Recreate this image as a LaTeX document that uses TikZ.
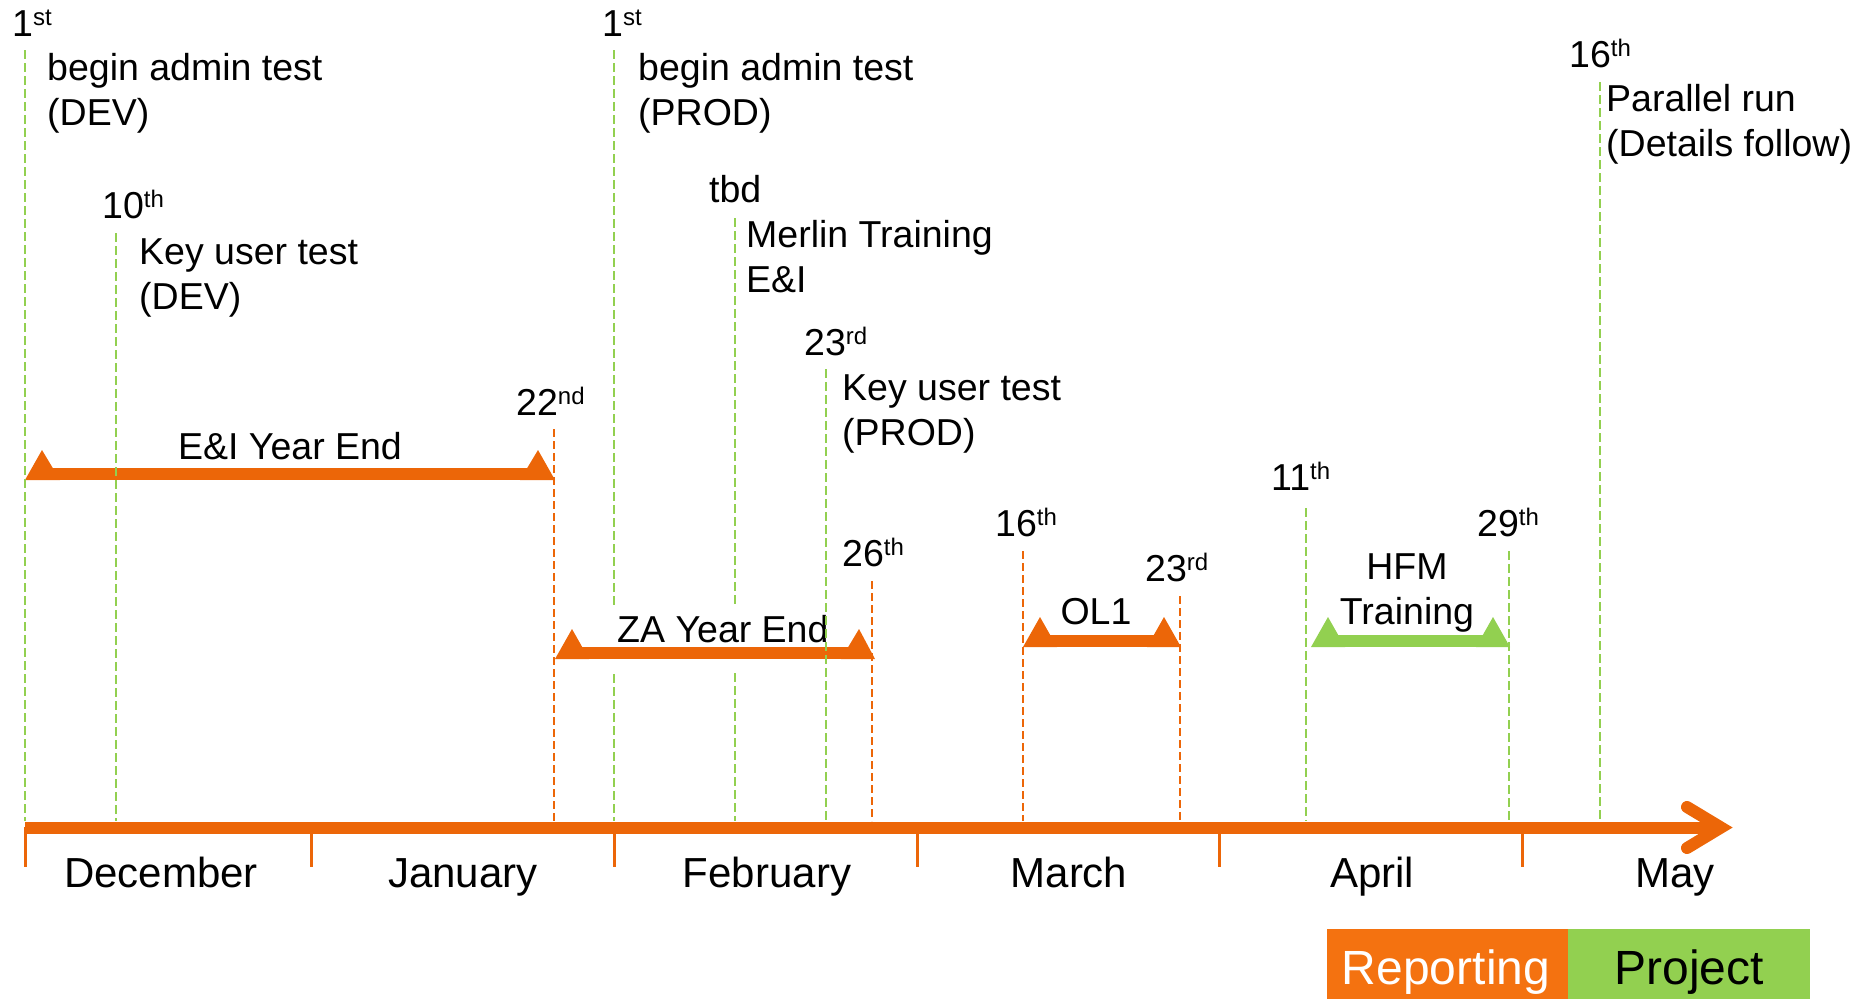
\documentclass[tikz,border=0pt]{standalone}
\usepackage{fontspec}
\setmainfont{Liberation Sans}
\definecolor{orangeC}{RGB}{236,102,8}
\definecolor{repC}{RGB}{244,114,16}
\definecolor{greenC}{RGB}{146,208,80}
\newcommand\tsup[1]{\raisebox{11pt}{\fontsize{24}{24}\selectfont #1}}
\begin{document}
\begin{tikzpicture}[x=1pt,y=-1pt,
  txt/.style={font=\fontsize{37.5}{45}\selectfont, inner sep=0pt, align=left, anchor=base west},
  ctxt/.style={font=\fontsize{37.5}{45}\selectfont, inner sep=0pt, align=center, anchor=base},
  month/.style={font=\fontsize{42}{45}\selectfont, inner sep=0pt, anchor=base},
  boxtxt/.style={font=\fontsize{48}{50}\selectfont, inner sep=0pt, anchor=base},
  gline/.style={draw=greenC, line width=2.2pt, dash pattern=on 9pt off 4pt},
  oline/.style={draw=orangeC, line width=2.7pt, dash pattern=on 8pt off 4pt},
  tick/.style={draw=orangeC, line width=3pt}
]
\useasboundingbox (0,0) rectangle (1857,999);
% E&I bar (under the marker lines)
\fill[orangeC] (42,468) rectangle (538,480);
\fill[orangeC] (25,480) -- (60,480) -- (42,450) -- cycle;
\fill[orangeC] (520,480) -- (555,480) -- (538,450) -- cycle;
% dashed marker lines
\foreach \x/\t in {25/50, 116/233, 614/50, 735/218, 1600/82, 1306/508, 1509/551}
  \draw[gline] (\x,\t) -- (\x,821);
\foreach \x/\t in {554/429, 872/581, 1023/551, 1180/596}
  \draw[oline] (\x,\t) -- (\x,821);
% main axis
\draw[orangeC, line width=12pt] (25,827.5) -- (1722,827.5);
\draw[orangeC, line width=12pt, line cap=round, line join=miter] (1687,807) -- (1721,827.5) -- (1687,848);
\foreach \x in {25, 311, 614, 917, 1219, 1522}
  \draw[tick] (\x,827) -- (\x,867);
% ZA label with white background
\node[font=\fontsize{37.5}{45}\selectfont, fill=white, inner xsep=5pt, inner ysep=0pt,
      text height=34pt, text depth=28pt, anchor=base west] (za) at (612,642) {ZA Year End};
% bars
\fill[orangeC] (572,647) rectangle (859,659);
\fill[orangeC] (555,659) -- (589,659) -- (572,629) -- cycle;
\fill[orangeC] (841,659) -- (875,659) -- (859,629) -- cycle;
\fill[orangeC] (1040,635) rectangle (1164,647);
\fill[orangeC] (1023,647) -- (1057,647) -- (1040,617) -- cycle;
\fill[orangeC] (1147,647) -- (1181,647) -- (1164,617) -- cycle;
\fill[greenC] (1328,635) rectangle (1493,647);
\fill[greenC] (1311,647) -- (1345,647) -- (1328,617) -- cycle;
\fill[greenC] (1476,647) -- (1510,647) -- (1493,617) -- cycle;
% line drawn over the ZA bar
\draw[gline] (826,369) -- (826,821);
% date labels
\node[txt] (d1) at (12,36) {1\tsup{st}};
\node[txt] (t1) at (47,125) {begin admin test\\(DEV)};
\node[txt] (d2) at (102,218) {10\tsup{th}};
\node[txt] (t2) at (139,309) {Key user test\\(DEV)};
\node[txt] (d3) at (602,36) {1\tsup{st}};
\node[txt] (t3) at (638,125) {begin admin test\\(PROD)};
\node[txt] (d4) at (709,202) {tbd};
\node[txt] (t4) at (746,292) {Merlin Training\\E\&I};
\node[txt] (d5) at (804,355) {23\tsup{rd}};
\node[txt] (t5) at (842,445) {Key user test\\(PROD)};
\node[txt] (d6) at (1569,67) {16\tsup{th}};
\node[txt] (t6) at (1606,156) {Parallel run\\(Details follow)};
\node[txt] (d7) at (516,415) {22\tsup{nd}};
\node[txt] (d8) at (842,566) {26\tsup{th}};
\node[txt] (d9) at (995,536) {16\tsup{th}};
\node[txt] (d10) at (1145,581) {23\tsup{rd}};
\node[txt] (d11) at (1271,490) {11\tsup{th}};
\node[txt] (d12) at (1477,536) {29\tsup{th}};
% bar labels
\node[ctxt] (ei) at (290,459) {E\&I Year End};
\node[ctxt] (ol) at (1096,624) {OL1};
\node[ctxt] (hfm) at (1407,624) {HFM\\Training};
% months
\node[month] (m1) at (161,887) {December};
\node[month] (m2) at (463,887) {January};
\node[month] (m3) at (767,887) {February};
\node[month] (m4) at (1069,887) {March};
\node[month] (m5) at (1372,887) {April};
\node[month] (m6) at (1675,887) {May};
% legend boxes
\fill[repC] (1327,929) rectangle (1568,999);
\fill[greenC] (1568,929) rectangle (1810,999);
\node[boxtxt, text=white] (rep) at (1446,984) {Reporting};
\node[boxtxt] (proj) at (1689,984) {Project};
\end{tikzpicture}
\end{document}
